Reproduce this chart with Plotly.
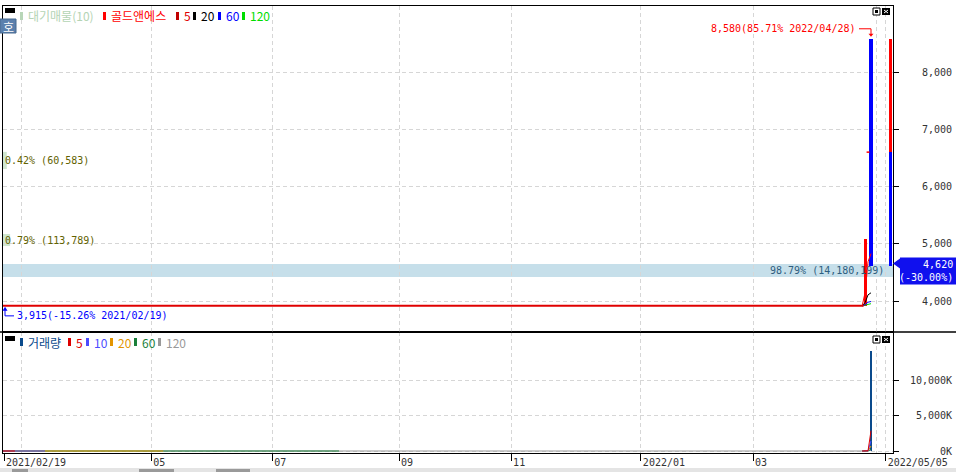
import plotly.graph_objects as go

# ---- data -------------------------------------------------------------
stock_name = "골드앤에스"

# trading-day index 0 = 2021/02/19; stock halted at one price until 2022/04/25
halt_price = 3915
halt_first_idx = 0
halt_last_idx = 291

candle_idx = [292, 293, 294]  # 2022/04/26, 04/27, 04/28
candle_open = [3915, 6600, 8580]
candle_close = [5090, 6600, 4620]
volume = [113789, 60583, 14180199]

price_ma_periods = [5, 20, 60, 120]
price_ma_colors = ["#ff0000", "#000000", "#0000ff", "#00dd00"]

vol_ma_periods = [5, 10, 20, 60, 120]
vol_ma_colors = ["#dd0000", "#4b4bff", "#e39500", "#1b7f3a", "#999999"]
vol_ma_zero_until = [3.7, 13.9, 54, 113.6, 291]  # where each flat MA stops showing

profile_count = 10
profile_low = [4420, 4960, 6305]
profile_high = [4645, 5170, 6605]
profile_pct = [98.79, 0.79, 0.42]
profile_vol = [14180199, 113789, 60583]

high_price, high_pct, high_date = 8580, 85.71, "2022/04/28"
low_price, low_pct, low_date = 3915, -15.26, "2021/02/19"
prev_close, last_price, last_pct = 6600, 4620, -30.00

month_idx = [0, 50, 91, 134, 172, 216, 254, 299]
month_labels = ["2021/02/19", "05", "07", "09", "11", "2022/01", "03", "2022/05/05"]
minor_month_idx = [6, 296]
price_ticks = [4000, 5000, 6000, 7000, 8000]
volume_ticks = [0, 5_000_000, 10_000_000]

# ---- pixel geometry ---------------------------------------------------
L, R, T, B = 3, 893, 6, 453
SPLIT = 332
W, H = R - L, B - T
FIG_W, FIG_H = 956, 472


def px(x):
    return (x - L) / W


def py(y):
    return (B - y) / H


X_PX0, X_STEP = 4, 2.949
P_REF, P_REF_PX, P_SCALE = 4000, 301, 57.25 / 1000
V_ZERO_PX, V_SCALE = 451, 35.2 / 5_000_000


def idx_px(i):
    return X_PX0 + X_STEP * i


def price_py(v):
    return P_REF_PX - (v - P_REF) * P_SCALE


x_range = [(L - X_PX0) / X_STEP, (R - X_PX0) / X_STEP]
p_range = [P_REF - (SPLIT - P_REF_PX) / P_SCALE, P_REF + (P_REF_PX - T) / P_SCALE]
v_range = [-(B - V_ZERO_PX) / V_SCALE, (V_ZERO_PX - SPLIT) / V_SCALE]

MONO = "DejaVu Sans Mono"
KR = "Noto Sans CJK KR"
GRID = "#d6d6d6"
DASH = "4px,3px"
NB = "\u00a0"

close_by_idx = dict(zip(candle_idx, candle_close))
vol_by_idx = dict(zip(candle_idx, volume))
tail_idx = [halt_last_idx] + candle_idx


def moving_avg(by_idx, default, period, i):
    return sum(by_idx.get(j, default) for j in range(i - period + 1, i + 1)) / period


fig = go.Figure()

# ---- price panel ------------------------------------------------------
for period, color in zip(price_ma_periods[::-1], price_ma_colors[::-1]):
    fig.add_trace(go.Scatter(
        x=tail_idx,
        y=[moving_avg(close_by_idx, halt_price, period, i) for i in tail_idx],
        mode="lines", line={"color": color, "width": 1},
        xaxis="x2", yaxis="y", hoverinfo="skip",
    ))

fig.add_trace(go.Scatter(
    x=[halt_first_idx - 0.5, halt_last_idx + 0.5], y=[halt_price, halt_price],
    mode="lines", line={"color": "#e00000", "width": 2},
    xaxis="x2", yaxis="y", hoverinfo="skip",
))

body_x, body_h, body_base, body_col = [], [], [], []
for i, o, c in zip(candle_idx, candle_open, candle_close):
    if o == c:
        fig.add_trace(go.Scatter(
            x=[i - 0.5, i + 0.5], y=[c, c], mode="lines",
            line={"color": "#ff0000", "width": 1.5},
            xaxis="x2", yaxis="y", hoverinfo="skip",
        ))
        continue
    body_x.append(i)
    body_h.append(abs(c - o))
    body_base.append(min(o, c))
    body_col.append("#ff0000" if c > o else "#0000ff")

fig.add_trace(go.Bar(
    x=body_x, y=body_h, base=body_base, width=1.05,
    marker={"color": body_col, "line": {"width": 0}},
    xaxis="x2", yaxis="y", hoverinfo="skip",
))

# today's range against previous close, drawn right of the last slot
range_x = month_idx[-1] + 1.6
fig.add_trace(go.Bar(
    x=[range_x, range_x],
    y=[high_price - prev_close, prev_close - last_price],
    base=[prev_close, last_price], width=1.05,
    marker={"color": ["#ff0000", "#0000ff"], "line": {"width": 0}},
    xaxis="x2", yaxis="y", hoverinfo="skip",
))

# ---- volume panel -----------------------------------------------------
fig.add_trace(go.Bar(
    x=candle_idx, y=volume, width=0.35,
    marker={"color": "#0a4a8c", "line": {"width": 0}},
    xaxis="x", yaxis="y2", hoverinfo="skip",
))
for period, color, zero_end in list(zip(vol_ma_periods, vol_ma_colors, vol_ma_zero_until))[::-1]:
    ys = [moving_avg(vol_by_idx, 0, period, i) for i in tail_idx]
    fig.add_trace(go.Scatter(
        x=[halt_first_idx - 0.5, zero_end, None] + tail_idx,
        y=[0, 0, None] + ys,
        mode="lines", line={"color": color, "width": 1},
        xaxis="x", yaxis="y2", hoverinfo="skip",
    ))

# ---- shapes & annotations --------------------------------------------
shapes = []
annotations = []


def rect(x0, y0, x1, y1, fill, line_color=None, layer="above"):
    shapes.append(dict(
        type="rect", xref="paper", yref="paper", layer=layer,
        x0=px(x0), x1=px(x1), y0=py(y1), y1=py(y0), fillcolor=fill,
        line={"width": 1 if line_color else 0, "color": line_color or fill},
    ))


def seg(x0, y0, x1, y1, color, width=1):
    shapes.append(dict(
        type="line", xref="paper", yref="paper",
        x0=px(x0), x1=px(x1), y0=py(y0), y1=py(y1),
        line={"color": color, "width": width},
    ))


def poly(points, fill):
    d = "M " + " L ".join(f"{px(x)},{py(y)}" for x, y in points) + " Z"
    shapes.append(dict(type="path", xref="paper", yref="paper", path=d,
                       fillcolor=fill, line={"width": 0}))


def text(x, y, s, color, size=10, family=MONO, anchor="left"):
    annotations.append(dict(
        xref="paper", yref="paper", x=px(x), y=py(y), text=s, showarrow=False,
        xanchor=anchor, yanchor="middle", font={"family": family, "size": size, "color": color},
    ))


# volume profile bands
max_pct = max(profile_pct)
for lo, hi, pct in zip(profile_low, profile_high, profile_pct):
    shapes.append(dict(
        type="rect", xref="paper", yref="y", layer="between",
        x0=0, x1=pct / max_pct, y0=lo, y1=hi,
        fillcolor="#c6dfea" if pct == max_pct else "#cfe6cf", line={"width": 0},
    ))
for lo, hi, pct, v in zip(profile_low, profile_high, profile_pct, profile_vol):
    mid = price_py((lo + hi) / 2)
    label = f"{pct:.2f}% ({v:,})"
    if pct == max_pct:
        text(886, mid, label, "#2e5e80", anchor="right")
    else:
        text(3, mid, label, "#626200")

# high / low markers
hx = idx_px(candle_idx[candle_open.index(high_price)])
hy = price_py(high_price)
text(858, hy - 10, f"{high_price:,}({high_pct:.2f}% {high_date})", "#ff0000", anchor="right")
seg(859, hy - 10, hx, hy - 10, "#ff0000")
seg(hx, hy - 10, hx, hy - 4, "#ff0000")
poly([(hx - 2.5, hy - 5), (hx + 2.5, hy - 5), (hx, hy - 2)], "#ff0000")

lx = idx_px(halt_first_idx) + 1
ly = price_py(low_price)
text(15, ly + 10, f"{low_price:,}({low_pct:.2f}% {low_date})", "#0000ff")
seg(lx, ly + 3, lx, ly + 10, "#0000ff")
seg(lx, ly + 10, 14, ly + 10, "#0000ff")
poly([(lx - 2.5, ly + 5), (lx + 2.5, ly + 5), (lx, ly + 1)], "#0000ff")

# current price tag
cy = price_py(last_price)
poly([(R, cy - 2), (R + 7, cy - 7), (R + 7, cy + 3)], "#1010ee")
rect(900, cy - 8, FIG_W, cy + 19, "#1010ee")
annotations.append(dict(
    xref="paper", yref="paper", x=px(FIG_W - 1), y=py(cy + 5.5),
    text=f"{last_price:,}<br>({last_pct:.2f}%)", showarrow=False, align="right",
    xanchor="right", yanchor="middle", font={"family": MONO, "size": 10, "color": "white"},
))

# legends
price_legend = [
    (20, f"대기매물({profile_count})", "#b8d6b8", "#b4d4b4"),
    (103, stock_name, "#ff0000", "#ff0000"),
] + [
    (x, str(p), c if c != "#ff0000" else "#c00000", c if c != "#ff0000" else "#e00000")
    for x, p, c in zip([176, 193, 218, 242], price_ma_periods, price_ma_colors)
]
for x, label, mcol, tcol in price_legend:
    rect(x, 12, x + 3, 20, mcol)
    text(x + 6, 15.5, label, tcol, size=12, family=KR)

vol_legend = [(20, "거래량", "#0a4a8c", "#0a4a8c")] + [
    (x, str(p), c, c) for x, p, c in zip([68, 86, 110, 134, 158], vol_ma_periods, vol_ma_colors)
]
for x, label, mcol, tcol in vol_legend:
    rect(x, 338, x + 3, 346, mcol)
    text(x + 6, 342, label, tcol, size=12, family=KR)

# panel chrome
for top in (T + 2, SPLIT + 4):
    rect(5, top, 15, top + 5, "black")
    rect(873, top, 880, top + 7, "white", "black")
    rect(875, top + 2, 878, top + 5, "black")
    rect(882, top, 890, top + 7, "black")
    seg(884, top + 2, 888, top + 5, "white")
    seg(884, top + 5, 888, top + 2, "white")
seg(0, SPLIT, FIG_W, SPLIT, "black", 1.5)
rect(0, 19, 16, 33, "#5b80ad", "#46688f")
text(8, 26, "호", "white", size=12, family=KR, anchor="center")
rect(0, 468, FIG_W, FIG_H, "#e4e4e4")
for x0, x1 in [(12, 28), (139, 174), (216, 250)]:
    rect(x0, 469, x1, FIG_H, "#9a9a9a")

# ---- axes -------------------------------------------------------------
pad_x = [s + NB * (10 - len(s)) for s in month_labels]
x_common = dict(
    range=x_range, tickvals=month_idx, showgrid=True, gridcolor=GRID, griddash=DASH,
    minor={"tickvals": minor_month_idx, "showgrid": True, "gridcolor": GRID, "griddash": DASH},
    showline=True, mirror=True, linecolor="black", linewidth=1, zeroline=False,
    fixedrange=True, automargin=False,
)
y_common = dict(
    side="right", ticks="outside", ticklen=5, tickcolor="black", showgrid=True,
    gridcolor=GRID, griddash=DASH, showline=True, mirror=True, linecolor="black",
    linewidth=1, zeroline=False, fixedrange=True, automargin=False, ticklabelstandoff=9,
    tickfont={"family": MONO, "size": 10, "color": "#333333"},
)

fig.update_layout(
    width=FIG_W, height=FIG_H,
    margin={"l": L, "r": FIG_W - R, "t": T, "b": FIG_H - B, "pad": 0, "autoexpand": False},
    paper_bgcolor="white", plot_bgcolor="white",
    showlegend=False, barmode="overlay", bargap=0,
    xaxis=dict(
        x_common, domain=[0, 1], anchor="y2", ticktext=pad_x, ticks="outside", ticklen=7,
        tickcolor="black", tickangle=0, ticklabelshift=32, ticklabelstandoff=-7,
        tickfont={"family": MONO, "size": 10, "color": "#333333"},
    ),
    xaxis2=dict(x_common, domain=[0, 1], anchor="y", matches="x", showticklabels=False, ticks=""),
    yaxis=dict(
        y_common, domain=[py(SPLIT), 1], anchor="x2", range=p_range, tickvals=price_ticks,
        ticktext=[f"{v:,}".rjust(7, NB) for v in price_ticks],
    ),
    yaxis2=dict(
        y_common, domain=[0, py(SPLIT)], anchor="x", range=v_range, tickvals=volume_ticks,
        ticktext=[f"{v // 1000:,}K".rjust(7, NB) for v in volume_ticks],
    ),
    shapes=shapes,
    annotations=annotations,
)

fig.write_html(
    "out.html",
    config={"displayModeBar": False},
    post_script="document.body.style.margin='0';document.body.style.overflow='hidden';",
)
